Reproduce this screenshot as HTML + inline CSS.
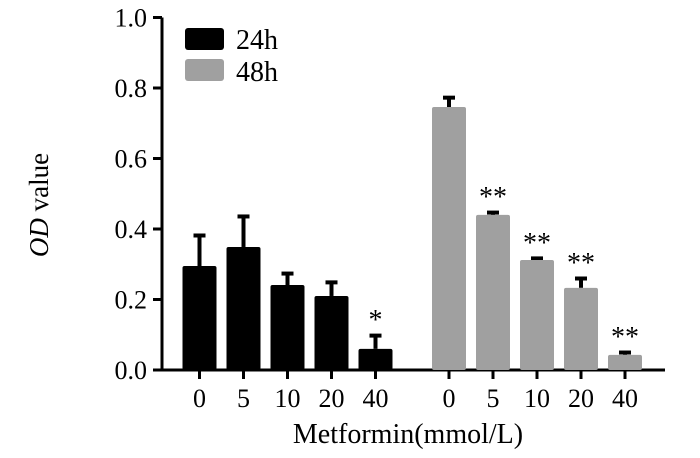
<!DOCTYPE html>
<html><head><meta charset="utf-8"><style>
body{margin:0;background:#fff}
svg text{font-family:"Liberation Serif",serif;fill:#000}
</style></head><body>
<svg width="700" height="453" viewBox="0 0 700 453">
<g id="plot"></g>
<text x="48" y="205" font-size="27" text-anchor="middle" transform="rotate(-90 48 205)"><tspan font-style="italic">OD</tspan> value</text>
<text x="408" y="443" font-size="28" text-anchor="middle">Metformin(mmol/L)</text>
<rect x="185" y="28" width="39" height="22" rx="3" fill="#000"/>
<text x="236" y="49" font-size="28">24h</text>
<rect x="185" y="59" width="39" height="22" rx="3" fill="#a0a0a0"/>
<text x="236" y="81" font-size="28">48h</text>
</svg>
<script>
const categories=["0","5","10","20","40"];
const values24=[0.295,0.349,0.241,0.21,0.06];
const errors24=[0.088,0.088,0.034,0.04,0.039];
const sig24=["","","","","*"];
const values48=[0.746,0.44,0.312,0.233,0.043];
const errors48=[0.028,0.008,0.006,0.028,0.008];
const sig48=["","**","**","**","**"];
const yTicks=[0,0.2,0.4,0.6,0.8,1.0];
const yTickLabels=["0.0","0.2","0.4","0.6","0.8","1.0"];

const NS="http://www.w3.org/2000/svg";
const g=document.getElementById('plot');
const y0=370,y1=17.5,axX=162;
const ys=v=>y0-(v/1.0)*(y0-y1);
const start24=199.5,start48=449,step=44,bw=34;
function mk(t,a){const e=document.createElementNS(NS,t);for(const k in a)e.setAttribute(k,a[k]);g.appendChild(e);return e;}
let e=mk('line',{x1:axX,y1:y0,x2:axX,y2:y1,stroke:'#000','stroke-width':3});


e=mk('line',{x1:axX-1.5,y1:y0,x2:665,y2:y0,stroke:'#000','stroke-width':3});


yTicks.forEach((v,i)=>{
  const t=mk('line',{x1:axX-9,y1:ys(v),x2:axX,y2:ys(v),stroke:'#000','stroke-width':3});
  
  
  const l=mk('text',{x:axX-15,y:ys(v)+9,'font-size':26,'text-anchor':'end'});
  l.textContent=yTickLabels[i];
  
  
});
function series(vals,errs,sig,start,color,name){
  vals.forEach((v,i)=>{
    const cx=start+i*step;
    const top=ys(v), et=ys(v+errs[i]);
    const ln=mk('line',{x1:cx,y1:top,x2:cx,y2:et,stroke:'#000','stroke-width':4});
    
    
    const cap=mk('rect',{x:cx-6,y:et-1.5,width:12,height:4,fill:'#000'});
    
    
    const r=mk('rect',{x:cx-bw/2,y:top,width:bw,height:y0-top,rx:2,fill:color});
    
    
    const tk=mk('line',{x1:cx,y1:y0,x2:cx,y2:y0+9,stroke:'#000','stroke-width':3});
    
    
    const tl=mk('text',{x:cx,y:y0+37,'font-size':26,'text-anchor':'middle'});
    tl.textContent=categories[i];
    
    
    if(sig[i]){
      const s=mk('text',{x:cx,y:et-6,'font-size':28,'text-anchor':'middle'});
      s.textContent=sig[i];
      
      
    }
  });
}
series(values24,errors24,sig24,start24,'#000','24h');
series(values48,errors48,sig48,start48,'#a0a0a0','48h');
</script>
</body></html>
